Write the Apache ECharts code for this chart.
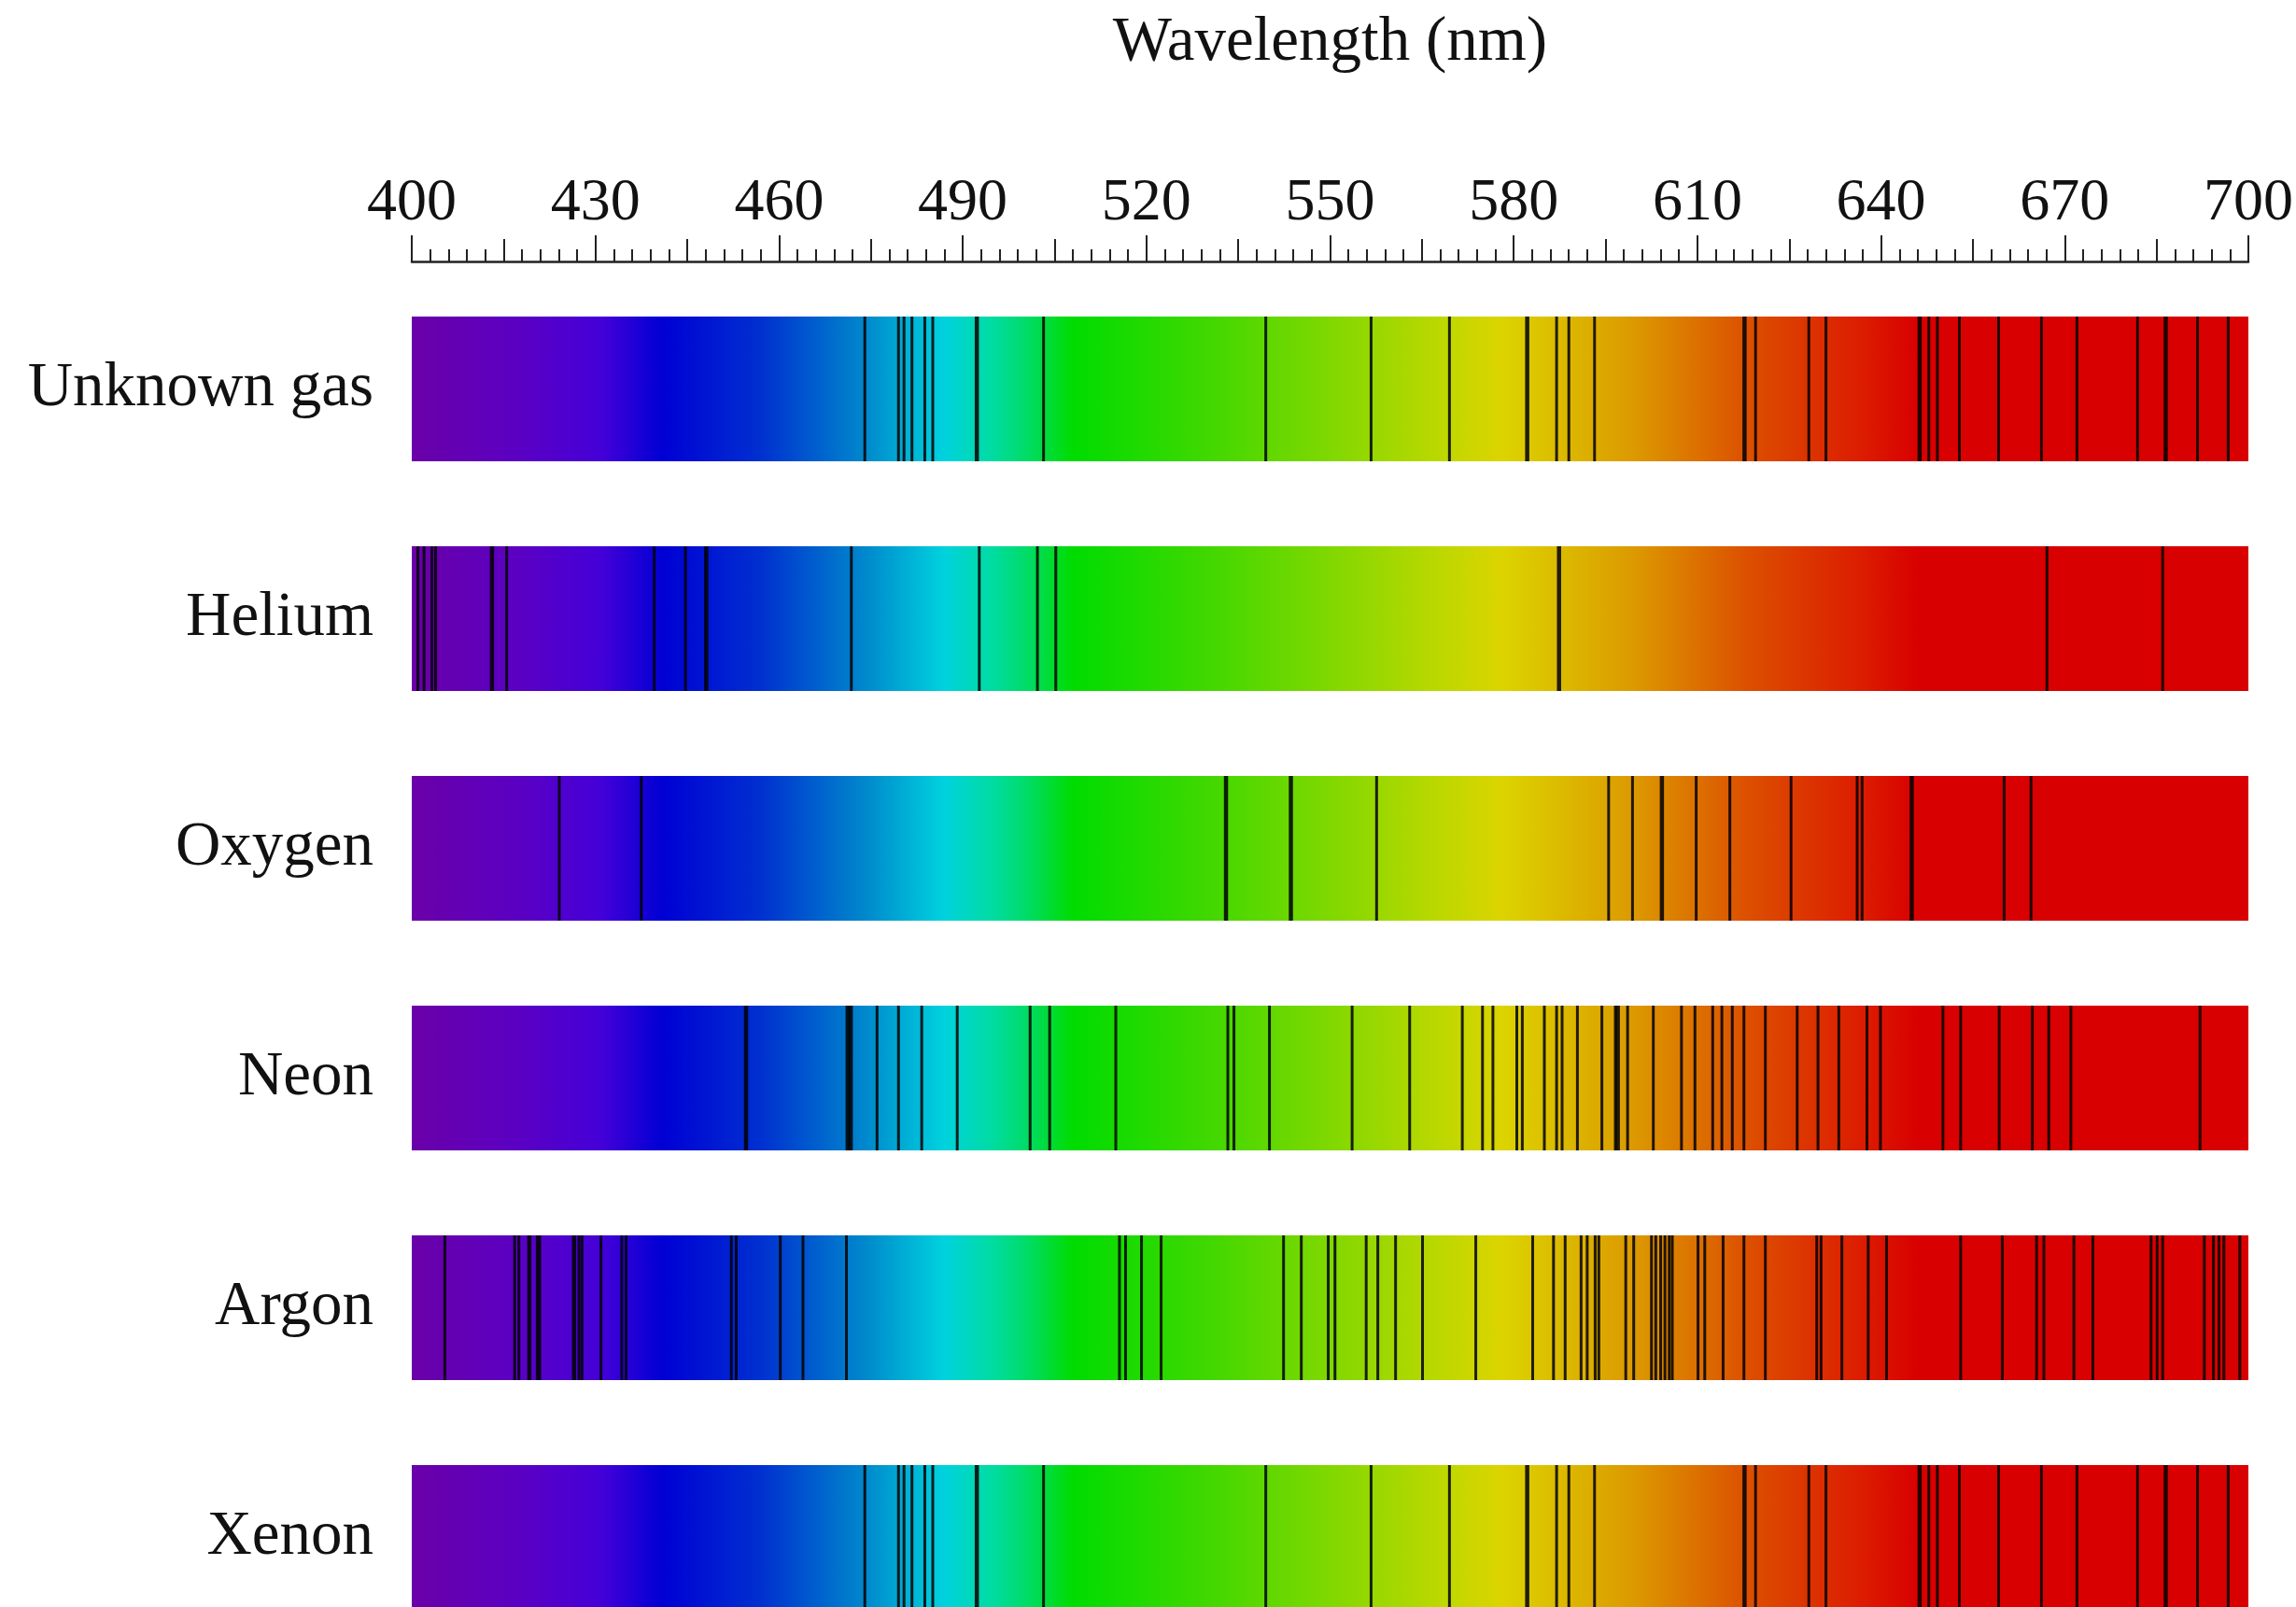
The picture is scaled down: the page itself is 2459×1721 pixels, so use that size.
<!DOCTYPE html>
<html>
<head>
<meta charset="utf-8">
<script src="https://cdn.jsdelivr.net/npm/echarts@6/dist/echarts.min.js"></script>
<style>
html,body{margin:0;padding:0;background:#fff;overflow:hidden;}
#chart{width:2459px;height:1770px;}
</style>
</head>
<body>
<div id="chart"></div>
<script>
// ---- data ----
const gases = ['Unknown gas', 'Helium', 'Oxygen', 'Neon', 'Argon', 'Xenon'];
const axisMin = 400, axisMax = 700;
const majorStep = 30, midStep = 15;

// emission lines: [wavelength nm, intensity (1 normal, 2 strong)]
const unknownLines = [[474.0,1],[479.5,1],[480.4,1],[481.7,1],[483.8,1],[485.1,1],[492.3,2],[503.2,1],[539.5,1],[556.7,1],[569.5,1],[582.2,2],[587.0,1],[589.0,1],[593.2,1],[617.7,2],[619.5,1],[628.2,1],[631.0,1],[646.3,2],[647.8,1],[649.2,1],[652.8,1],[659.2,1],[666.2,1],[672.0,1],[681.9,1],[686.5,2],[691.7,1],[696.7,1]];
const heliumLines = [[401.0,1],[402.0,1],[403.3,1],[403.9,1],[413.1,2],[415.5,1],[439.6,1],[444.7,1],[448.1,2],[471.8,1],[492.7,1],[502.2,1],[505.2,1],[587.4,2],[667.1,1],[686.0,1]];
const oxygenLines = [[424.1,1],[437.5,1],[533.0,2],[543.6,2],[557.6,1],[595.5,1],[599.4,1],[604.2,2],[609.8,1],[615.3,1],[625.3,1],[636.1,1],[636.9,1],[645.0,2],[660.1,1],[664.5,1]];
const neonLines = [[454.6,2],[471.2,2],[471.7,2],[476.0,1],[479.5,1],[483.3,1],[489.1,1],[501.0,1],[504.2,1],[515.0,1],[533.3,1],[534.3,1],[540.1,1],[553.6,1],[563.0,1],[571.6,1],[574.9,1],[576.6,1],[580.5,1],[581.4,1],[585.0,1],[587.0,1],[587.9,1],[590.4,1],[594.4,1],[596.6,1],[597.0,2],[598.6,1],[602.8,1],[607.4,1],[609.6,1],[612.5,1],[614.0,1],[615.7,1],[617.6,1],[621.1,1],[626.3,1],[629.7,1],[633.1,1],[637.7,1],[639.9,1],[650.1,1],[653.0,1],[659.3,1],[664.7,1],[667.4,1],[671.0,1],[692.1,1]];
const argonLines = [[405.4,1],[416.8,1],[417.5,1],[419.2,2],[420.5,1],[420.9,1],[426.5,2],[427.3,1],[427.8,1],[430.9,1],[434.3,1],[435.0,1],[452.2,1],[453.0,1],[460.2,1],[463.9,1],[471.0,1],[515.6,1],[516.6,1],[519.2,1],[522.4,1],[542.4,1],[545.3,1],[549.7,1],[550.8,1],[555.9,1],[557.8,1],[560.7,1],[565.1,1],[573.8,1],[583.1,1],[586.5,1],[588.4,1],[591.0,1],[592.0,1],[593.3,1],[593.9,1],[598.3,1],[599.6,1],[602.5,1],[603.2,1],[604.0,1],[604.7,1],[605.4,1],[605.9,1],[610.1,1],[611.2,1],[614.2,1],[617.6,1],[621.1,1],[629.5,1],[630.2,1],[633.6,1],[637.9,1],[640.9,1],[653.0,1],[659.8,1],[665.4,1],[666.6,1],[671.5,1],[674.6,1],[684.1,1],[685.1,1],[686.0,1],[692.8,1],[694.3,1],[695.2,1],[696.0,1],[698.6,1]];
const xenonLines = [[474.0,1],[479.5,1],[480.4,1],[481.7,1],[483.8,1],[485.1,1],[492.3,2],[503.2,1],[539.5,1],[556.7,1],[569.5,1],[582.2,2],[587.0,1],[589.0,1],[593.2,1],[617.7,2],[619.5,1],[628.2,1],[631.0,1],[646.3,2],[647.8,1],[649.2,1],[652.8,1],[659.2,1],[666.2,1],[672.0,1],[681.9,1],[686.5,2],[691.7,1],[696.7,1]];
const allLines = [unknownLines, heliumLines, oxygenLines, neonLines, argonLines, xenonLines];

// spectrum colour stops [wavelength, colour]
const spectrumStops = [[400,'#6a00a8'],[418,'#5a00c4'],[431,'#4400d8'],[441,'#0000d4'],[457,'#0030d0'],[474,'#0088cc'],[487,'#00d2de'],[495,'#00dca0'],[501,'#00dc60'],[508,'#00dc00'],[530,'#40d800'],[550,'#80d800'],[568,'#bcd800'],[578,'#dcd400'],[590,'#dcb400'],[600,'#dc9800'],[610,'#dc7000'],[618,'#dc5000'],[628,'#dc3400'],[637,'#dc1c00'],[646,'#d80000'],[700,'#d80000']];

// ---- chart ----
const chart = echarts.init(document.getElementById('chart'));
const FONT = 'Liberation Serif';
const gradient = new echarts.graphic.LinearGradient(0, 0, 1, 0,
  spectrumStops.map(s => ({offset: (s[0] - axisMin) / (axisMax - axisMin), color: s[1]})));

const bandData = gases.map((g, i) => [axisMin, i, axisMax]);
const lineData = [];
allLines.forEach((arr, i) => arr.forEach(l => lineData.push([l[0], i, l[1]])));

const commonX = {
  type: 'value', position: 'top', min: axisMin, max: axisMax, offset: 13.5,
  splitLine: {show: false}
};

chart.setOption({
  animation: false,
  backgroundColor: '#fff',
  grid: {left: 441, right: 48, top: 293.5, bottom: 0.5, containLabel: false},
  xAxis: [
    Object.assign({}, commonX, {
      interval: majorStep,
      name: 'Wavelength (nm)', nameLocation: 'middle', nameGap: 200,
      nameTextStyle: {fontFamily: FONT, fontSize: 67, color: '#111'},
      axisLine: {show: true, lineStyle: {color: '#222', width: 2.5}},
      axisTick: {show: true, inside: false, length: 28, lineStyle: {color: '#222', width: 2}},
      axisLabel: {show: true, margin: 30, fontFamily: FONT, fontSize: 64, color: '#111'}
    }),
    Object.assign({}, commonX, {
      interval: midStep,
      axisLine: {show: false},
      axisTick: {show: true, inside: false, length: 24, lineStyle: {color: '#222', width: 2}},
      minorTick: {show: true, splitNumber: 5, length: 13, lineStyle: {color: '#222', width: 2}},
      axisLabel: {show: false}
    })
  ],
  yAxis: {
    type: 'category', data: gases, inverse: true,
    axisLine: {show: false}, axisTick: {show: false}, splitLine: {show: false},
    axisLabel: {margin: 41, fontFamily: FONT, fontSize: 67, color: '#111'}
  },
  series: [
    {
      type: 'custom', xAxisIndex: 0, yAxisIndex: 0, data: bandData, clip: false,
      renderItem: function (params, api) {
        const p0 = api.coord([api.value(0), api.value(1)]);
        const p1 = api.coord([api.value(2), api.value(1)]);
        const h = api.size([0, 1])[1] * 0.63;
        return {type: 'rect', shape: {x: p0[0], y: p0[1] - h / 2, width: p1[0] - p0[0], height: h},
          style: {fill: gradient}};
      }
    },
    {
      type: 'custom', xAxisIndex: 0, yAxisIndex: 0, data: lineData, clip: false,
      renderItem: function (params, api) {
        const p = api.coord([api.value(0), api.value(1)]);
        const h = api.size([0, 1])[1] * 0.63;
        const w = api.value(2) > 1 ? 4.5 : 3;
        return {type: 'rect', shape: {x: p[0] - w / 2, y: p[1] - h / 2, width: w, height: h},
          style: {fill: 'rgba(0,0,0,0.85)'}};
      }
    }
  ]
});
</script>
</body>
</html>
